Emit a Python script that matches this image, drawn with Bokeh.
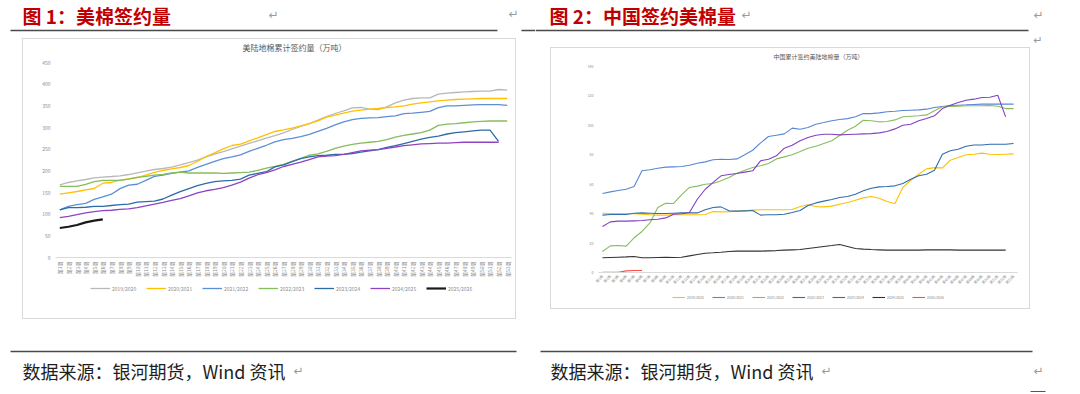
import math
from bokeh.plotting import figure
from bokeh.models import Range1d, FactorRange, Spacer, Legend, LegendItem
from bokeh.layouts import row, column
from bokeh.embed import file_html
from bokeh.resources import INLINE
from bokeh.core.properties import value

FONT = "Noto Sans CJK SC"

# ---------------- data ----------------
weeks = [f"第{i}周" for i in range(1, 54)]
seasons = ["2019/2020", "2020/2021", "2021/2022", "2022/2023", "2023/2024", "2024/2025", "2025/2026"]

us_2019_2020 = [167.7, 173.1, 176.9, 180.0, 183.8, 185.4, 186.9, 188.5, 191.5, 195.4, 199.2, 203.1, 205.4, 208.5,
                213.8, 219.2, 224.6, 232.3, 238.5, 244.6, 250.8, 256.9, 263.1, 269.2, 275.4, 281.5, 287.7, 295.4,
                302.3, 309.2, 316.9, 325.4, 332.3, 338.5, 345.4, 346.2, 342.3, 341.5, 347.7, 356.9, 363.1, 366.9,
                368.5, 368.5, 376.9, 379.2, 380.8, 382.3, 383.1, 383.8, 383.8, 387.7, 386.2]
us_2020_2021 = [146.2, 149.2, 152.3, 156.2, 159.2, 171.5, 173.1, 178.5, 181.5, 184.6, 190.0, 196.2, 200.8, 204.6,
                207.7, 212.3, 221.5, 233.1, 241.5, 250.8, 258.5, 261.5, 269.2, 276.2, 283.8, 290.8, 294.6, 298.5,
                303.8, 309.2, 315.4, 323.8, 328.5, 333.1, 337.7, 340.0, 342.3, 343.8, 346.2, 347.7, 350.0, 353.8,
                356.9, 359.2, 361.5, 363.1, 364.6, 365.4, 366.2, 366.9, 366.9, 366.9, 366.9]
us_2021_2022 = [110, 118, 122, 125, 134, 140, 146, 159, 167, 169, 178, 187, 190, 194, 197, 200, 208, 215, 222, 228,
                232, 237, 245, 252, 259, 267, 272, 275, 279, 284, 291, 298, 306, 313, 318, 321, 322, 323, 325, 327,
                332, 333, 335, 337, 346, 350, 350, 351, 352, 353, 353, 353, 351]
us_2022_2023 = [164, 164, 164, 169, 175, 178, 178, 178, 181, 185, 187, 190, 192, 195, 197, 195, 195, 195, 195, 194,
                195, 196, 197, 201, 206, 210, 215, 222, 229, 236, 239, 245, 252, 257, 261, 264, 266, 268, 272, 278,
                282, 285, 288, 294, 305, 308, 309, 311, 313, 314, 315, 315, 315]
us_2023_2024 = [110, 115, 115, 116, 118, 118, 120, 122, 123, 128, 129, 130, 135, 144, 152, 159, 166, 171, 175, 177,
                178, 181, 190, 194, 198, 209, 214, 221, 228, 232, 235, 236, 238, 238, 240, 243, 246, 249, 254, 258,
                263, 268, 273, 277, 280, 285, 288, 290, 292, 294, 294, 268]
us_2024_2025 = [92, 95, 99, 103, 106, 108, 109, 111, 112, 115, 119, 123, 127, 132, 136, 142, 149, 154, 157, 161,
                167, 174, 183, 191, 196, 202, 210, 215, 220, 226, 232, 234, 235, 238, 242, 246, 248, 249, 252, 255,
                258, 260, 262, 263, 264, 264, 265, 266, 266, 266, 266, 266]
us_2025_2026 = [68, 71, 75, 81, 85, 88]

cn_2019_2020 = [40.3, 40.1, 40.1, 40.1, 39.9, 39.6, 39.2, 39.0, 39.0, 39.2, 39.2, 39.2, 39.2, 39.4, 41.4, 41.2, 41.4,
                41.7, 41.9, 42.4, 42.6, 42.6, 42.6, 42.6, 42.8, 44.8, 46.0, 44.8, 44.6, 45.1, 46.4, 47.6, 49.1, 50.7,
                51.6, 50.5, 48.2, 46.9, 57.8, 62.7, 66.8, 70.4, 71.3, 71.1, 76.3, 78.1, 80.0, 80.4, 81.1, 80.4, 80.2,
                80.4, 80.6]
cn_2020_2021 = [53.7, 54.8, 55.7, 56.6, 58.4, 69.1, 69.8, 70.9, 71.6, 71.8, 72.0, 72.9, 74.3, 75.2, 76.6, 77.0, 76.8,
                77.2, 80.0, 83.1, 88.1, 92.4, 93.3, 94.2, 98.1, 97.4, 98.5, 100.8, 101.9, 103.1, 104.0, 104.6, 105.8,
                108.0, 108.0, 108.5, 109.2, 109.6, 110.1, 110.3, 110.5, 111.0, 112.1, 112.8, 113.5, 113.7, 113.9,
                114.2, 114.4, 114.4, 114.4, 114.4, 114.4]
cn_2021_2022 = [14.3, 18.1, 18.3, 17.9, 23.6, 27.9, 33.7, 44.2, 47.1, 46.9, 52.8, 57.8, 58.7, 60.0, 60.5, 62.3, 64.6,
                67.5, 69.5, 71.3, 72.5, 74.1, 77.2, 78.6, 80.0, 82.2, 84.5, 85.8, 87.7, 89.5, 93.1, 96.7, 99.4, 103.5,
                103.1, 102.4, 102.6, 103.7, 105.8, 106.2, 106.5, 107.1, 109.9, 112.6, 112.8, 113.0, 113.3, 113.3,
                113.3, 113.5, 113.0, 111.4, 111.4]
cn_2022_2023 = [39.0, 39.4, 39.4, 39.4, 40.3, 40.5, 40.3, 40.1, 40.1, 40.3, 40.5, 40.5, 40.5, 42.6, 44.2, 44.6, 41.9,
                41.7, 41.9, 42.1, 39.0, 39.2, 39.2, 39.6, 40.8, 42.1, 45.5, 47.3, 48.5, 49.6, 51.0, 51.6, 53.2, 55.5,
                57.3, 58.2, 58.4, 58.9, 60.5, 63.4, 65.7, 66.8, 69.5, 80.4, 82.7, 83.8, 85.8, 86.7, 86.7, 87.2, 87.2,
                87.2, 87.7]
cn_2023_2024 = [31.3, 34.4, 34.9, 34.9, 35.1, 35.3, 35.8, 36.2, 37.1, 39.6, 39.9, 40.8, 49.8, 56.6, 61.2, 65.7, 66.6,
                67.3, 68.2, 69.1, 75.9, 77.0, 79.3, 84.5, 86.5, 89.5, 91.7, 93.3, 94.0, 94.0, 93.5, 93.8, 94.0, 94.2,
                94.4, 94.9, 95.8, 97.6, 100.1, 100.8, 103.1, 104.6, 106.5, 111.4, 113.7, 115.5, 117.1, 117.8, 118.9,
                119.1, 120.5, 105.8]
cn_2024_2025 = [10.0, 10.2, 10.4, 10.6, 10.9, 10.0, 10.0, 10.2, 10.4, 10.2, 10.4, 11.3, 12.2, 13.1, 13.4, 13.8, 14.3,
                14.5, 14.5, 14.5, 14.5, 14.7, 14.9, 15.2, 15.4, 15.6, 16.3, 17.0, 17.7, 18.3, 19.0, 17.7, 16.3, 15.9,
                15.6, 15.4, 15.2, 15.2, 15.2, 15.2, 15.2, 15.4, 15.4, 15.4, 15.4, 15.2, 15.2, 15.2, 15.2, 15.2, 15.2,
                15.2]
cn_2025_2026 = [0.2, 0.2, 0.2, 1.1, 1.4, 1.4]

us_ticks = [0, 50, 100, 150, 200, 250, 300, 350, 400, 450]
cn_ticks = [0, 20, 40, 60, 80, 100, 120, 140]

us_series = [us_2019_2020, us_2020_2021, us_2021_2022, us_2022_2023, us_2023_2024, us_2024_2025, us_2025_2026]
cn_series = [cn_2019_2020, cn_2020_2021, cn_2021_2022, cn_2022_2023, cn_2023_2024, cn_2024_2025, cn_2025_2026]

us_colors = ["#B8B8B8", "#FFC000", "#5B8FD6", "#84BD5C", "#2E6CA8", "#8E44C0", "#1A1A1A"]
cn_colors = ["#FFC000", "#5A86D6", "#86BE5E", "#2E6EAD", "#8340C2", "#333333", "#FF4B4B"]
us_widths = [1.3, 1.3, 1.3, 1.3, 1.3, 1.3, 2.2]
cn_widths = [1.1, 1.1, 1.1, 1.1, 1.1, 1.1, 1.1]

BOX = "#d9d9d9"
SH_TOP = {"box-shadow": f"inset 1px 1px 0 {BOX}, inset -1px 0 0 {BOX}", "background-color": "white"}
SH_MID = {"box-shadow": f"inset 1px 0 0 {BOX}, inset -1px 0 0 {BOX}", "background-color": "white"}
SH_BOT = {"box-shadow": f"inset 1px -1px 0 {BOX}, inset -1px 0 0 {BOX}", "background-color": "white"}


# ---------------- helpers ----------------
def page_fig(w, h, x0, x1, ytop, ybot, styles=None):
    p = figure(width=w, height=h, x_range=Range1d(x0, x1), y_range=Range1d(ybot, ytop),
               min_border=0, toolbar_location=None, output_backend="svg",
               x_axis_type=None, y_axis_type=None)
    p.outline_line_color = None
    if styles:
        p.border_fill_color = None
        p.background_fill_color = None
        p.styles = styles
    else:
        p.border_fill_color = "white"
        p.background_fill_color = "white"
    return p


def txt(p, x, y, s, size, color, bold=False, font=FONT, align="left"):
    p.text(x=[x], y=[y], text=[s], text_font=value(font), text_font_size=size,
           text_font_style="bold" if bold else "normal", text_color=color,
           text_baseline="middle", text_align=align)


def rule(p, x0, x1, y, color="#4a4a4a", w=1.5):
    p.segment(x0=[x0], y0=[y], x1=[x1], y1=[y], line_color=color, line_width=w)


def chart(w, h, ymax, ticks, borders, lsize, orient, standoff, series, colors, widths):
    p = figure(width=w, height=h, x_range=FactorRange(factors=weeks), y_range=Range1d(0, ymax),
               toolbar_location=None, output_backend="svg",
               min_border_left=borders[0], min_border_right=borders[1],
               min_border_top=borders[2], min_border_bottom=borders[3])
    p.outline_line_color = None
    p.border_fill_color = None
    p.background_fill_color = "white"
    p.styles = SH_MID
    p.xgrid.visible = False
    p.ygrid.visible = False
    p.yaxis.ticker = ticks
    p.yaxis.axis_line_color = None
    p.yaxis.major_tick_line_color = None
    p.yaxis.major_tick_out = 0
    p.yaxis.minor_tick_line_color = None
    p.yaxis.major_label_text_font_size = lsize
    p.yaxis.major_label_text_color = "#8c8c8c"
    p.yaxis.major_label_text_font = FONT
    p.yaxis.major_label_standoff = 5
    p.xaxis.axis_line_color = BOX
    p.xaxis.major_tick_line_color = None
    p.xaxis.major_tick_out = 0
    p.xaxis.major_label_text_font_size = lsize
    p.xaxis.major_label_text_color = "#8c8c8c"
    p.xaxis.major_label_text_font = FONT
    p.xaxis.major_label_orientation = orient
    p.xaxis.major_label_standoff = standoff
    for vals, c, lw in zip(series, colors, widths):
        p.line(x=weeks[:len(vals)], y=vals, line_color=c, line_width=lw)
    return p


def legend_fig(w, h, x0, ytop, series, colors, widths, leg):
    # key-only figure: hidden copies of the series give the legend its swatches
    p = page_fig(w, h, x0, x0 + w, ytop, ytop + h, styles=SH_BOT)
    items = []
    for name, vals, c, lw in zip(seasons, series, colors, widths):
        r = p.line(x=list(range(len(vals))), y=vals, line_color=c, line_width=lw, visible=False)
        items.append(LegendItem(label=name, renderers=[r]))
    lg = Legend(items=items, location=leg["loc"], orientation="horizontal",
                padding=0, margin=0, spacing=leg["spacing"],
                glyph_width=leg["gw"], glyph_height=leg["gh"], label_height=leg["gh"],
                label_width=leg["lw"], label_standoff=2,
                label_text_font_size=leg["fs"], label_text_font=FONT, label_text_color="#8c8c8c",
                border_line_color=None, background_fill_alpha=0)
    p.add_layout(lg, "center")
    return p


# ---------------- left column ----------------
headL = page_fig(535, 38, 0, 535, 0, 38)
txt(headL, 22, 15, "图 1：美棉签约量", "19px", "#C00000", bold=True)
txt(headL, 268, 14, "↵", "12px", "#9a9a9a", font="DejaVu Sans")
txt(headL, 508, 13, "↵", "12px", "#9a9a9a", font="DejaVu Sans")
rule(headL, 10, 497, 30)
rule(headL, 521, 535, 30)

title1 = page_fig(494, 18, 22, 516, 38, 56, styles=SH_TOP)
txt(title1, 281, 47, "美陆地棉累计签约量（万吨）", "8px", "#595959", align="center")

chart1 = chart(494, 228, 450, us_ticks, (33, 5, 6, 27), "5px", math.pi / 2, 4,
               us_series, us_colors, us_widths)

legend1 = legend_fig(494, 35, 22, 284, us_series, us_colors, us_widths,
                     {"loc": (35, 27), "spacing": 9, "gw": 20, "gh": 8, "lw": 25, "fs": "5px"})

box1 = column(title1, chart1, legend1)

footL = page_fig(535, 75, 0, 535, 319, 394)
rule(footL, 10, 516, 351)
txt(footL, 22, 370, "数据来源：银河期货，Wind 资讯", "18px", "#1e1e1e")
txt(footL, 293, 370, "↵", "12px", "#9a9a9a", font="DejaVu Sans")

left_col = column(headL, row(Spacer(width=22, height=281), box1, Spacer(width=19, height=281)), footL)

# ---------------- right column ----------------
headR = page_fig(545, 47, 535, 1080, 0, 47)
txt(headR, 549, 15, "图 2：中国签约美棉量", "19px", "#C00000", bold=True)
txt(headR, 741, 14, "↵", "12px", "#9a9a9a", font="DejaVu Sans")
txt(headR, 1033, 14, "↵", "12px", "#9a9a9a", font="DejaVu Sans")
txt(headR, 1033, 40, "↵", "11px", "#9a9a9a", font="DejaVu Sans")
rule(headR, 535, 1028, 30)

title2 = page_fig(480, 15, 550, 1030, 47, 62, styles=SH_TOP)
txt(title2, 802, 55.5, "中国累计签约美陆地棉量（万吨）", "6px", "#595959", align="center")

chart2 = chart(480, 228, 140, cn_ticks, (48, 13, 4, 18), "3.5px", math.pi / 4, 3,
               cn_series, cn_colors, cn_widths)

legend2 = legend_fig(480, 19, 550, 290, cn_series, cn_colors, cn_widths,
                     {"loc": (74, 9), "spacing": 8, "gw": 13, "gh": 6, "lw": 17, "fs": "3.5px"})

box2 = column(title2, chart2, legend2)

footR = page_fig(545, 85, 535, 1080, 309, 394)
rule(footR, 540, 1032, 351)
txt(footR, 550, 370, "数据来源：银河期货，Wind 资讯", "18px", "#1e1e1e")
txt(footR, 821, 370, "↵", "12px", "#9a9a9a", font="DejaVu Sans")
txt(footR, 1033, 370, "↵", "12px", "#9a9a9a", font="DejaVu Sans")
rule(footR, 1030, 1045, 391, color="#555555", w=1)

right_col = column(headR, row(Spacer(width=15, height=262), box2, Spacer(width=50, height=262)), footR)

page = row(left_col, right_col)

open("out.html", "w").write(file_html(page, INLINE))
